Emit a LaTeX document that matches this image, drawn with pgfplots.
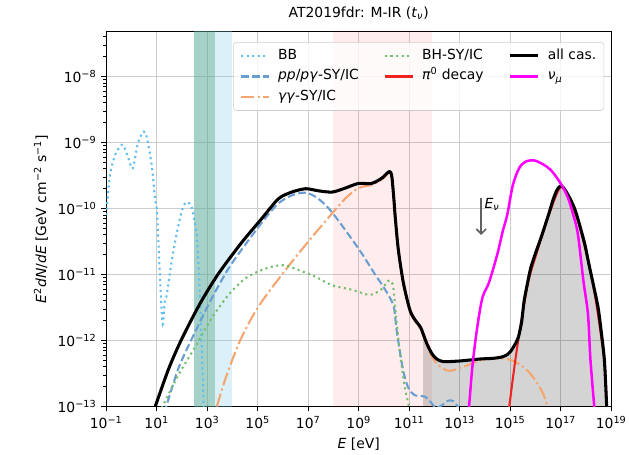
\documentclass[border=0pt]{standalone}
\usepackage{fontspec}
\setmainfont{DejaVu Sans}
\usepackage{pgfplots}
\pgfplotsset{compat=1.18}
\usetikzlibrary{arrows.meta}

\definecolor{bbcol}{RGB}{95,190,238}
\definecolor{ppcol}{RGB}{105,158,210}
\definecolor{ggcol}{RGB}{245,165,112}
\definecolor{bhcol}{RGB}{118,190,110}
\definecolor{picol}{RGB}{240,35,35}
\definecolor{numcol}{RGB}{255,0,255}
\definecolor{gridcol}{RGB}{205,205,205}
\definecolor{xraycol}{RGB}{135,206,235}
\definecolor{softcol}{RGB}{46,139,87}

\tikzset{
  bbstyle/.style={bbcol, line width=1.5pt, dash pattern=on 1.5pt off 2.5pt},
  ppstyle/.style={ppcol, line width=1.5pt, dash pattern=on 5.5pt off 2.4pt},
  ggstyle/.style={ggcol, line width=1.5pt, dash pattern=on 9.6pt off 2.4pt on 1.5pt off 2.4pt},
  bhstyle/.style={bhcol, line width=1.5pt, dash pattern=on 1.5pt off 2.5pt},
  pistyle/.style={picol, line width=1.5pt},
  allstyle/.style={black, line width=2.2pt, line join=round},
  numstyle/.style={numcol, line width=1.8pt, line join=round},
}

\begin{document}
\begin{tikzpicture}
\begin{axis}[
  scale only axis,
  width=363.6pt, height=269.9pt,
  xmode=log, ymode=log,
  xmin=1e-1, xmax=1e19, ymin=1e-13, ymax=4.8e-8,
  xtick={1e-1,1e1,1e3,1e5,1e7,1e9,1e11,1e13,1e15,1e17,1e19},
  xticklabels={10\textsuperscript{−1},10\textsuperscript{1},10\textsuperscript{3},10\textsuperscript{5},10\textsuperscript{7},10\textsuperscript{9},10\textsuperscript{11},10\textsuperscript{13},10\textsuperscript{15},10\textsuperscript{17},10\textsuperscript{19}},
  ytick={1e-13,1e-12,1e-11,1e-10,1e-9,1e-8},
  yticklabels={10\textsuperscript{−13},10\textsuperscript{−12},10\textsuperscript{−11},10\textsuperscript{−10},10\textsuperscript{−9},10\textsuperscript{−8}},
  minor xtick={},
  minor ytick={2e-13,3e-13,4e-13,5e-13,6e-13,7e-13,8e-13,9e-13,
               2e-12,3e-12,4e-12,5e-12,6e-12,7e-12,8e-12,9e-12,
               2e-11,3e-11,4e-11,5e-11,6e-11,7e-11,8e-11,9e-11,
               2e-10,3e-10,4e-10,5e-10,6e-10,7e-10,8e-10,9e-10,
               2e-9,3e-9,4e-9,5e-9,6e-9,7e-9,8e-9,9e-9,
               2e-8,3e-8,4e-8},
  tick align=outside,
  xtick pos=bottom, ytick pos=left,
  major tick length=3.5pt, minor tick length=2pt,
  every major tick/.style={black, line width=0.8pt},
  every minor tick/.style={black, line width=0.6pt},
  grid=major,
  major grid style={gridcol, line width=0.8pt},
  axis line style={line width=0.8pt},
  no markers,
  xlabel={\textit{E} [eV]},
  ylabel={\textit{E}\textsuperscript{2}\textit{dN}/\textit{dE} [GeV cm\textsuperscript{−2} s\textsuperscript{−1}]},
  title={AT2019fdr: M-IR (\textit{t}\textsubscript{\textit{ν}})},
  title style={at={(0.5,1)}, anchor=base, yshift=4pt},
  legend columns=3,
  legend cell align=left,
  legend image code/.code={\draw[#1] (0pt,0pt) -- (20pt,0pt);},
  legend style={
    at={(0.986,0.972)}, anchor=north east,
    draw=gridcol, rounded corners=2pt,
    fill=white, fill opacity=0.8, text opacity=1,
    inner xsep=4.5pt, inner ysep=3.5pt,
    row sep=3pt,
    nodes={inner sep=1pt, text height=7.5pt, text depth=2.5pt},
    /tikz/every odd column/.append style={column sep=5pt},
    /tikz/every even column/.append style={column sep=17pt},
  },
]

% observation windows
\fill[xraycol, opacity=0.3] (axis cs:300,1e-14) rectangle (axis cs:1e4,1e-7);
\fill[softcol, opacity=0.3] (axis cs:300,1e-14) rectangle (axis cs:2000,1e-7);
\fill[red, opacity=0.07] (axis cs:1e8,1e-14) rectangle (axis cs:8e11,1e-7);

% shaded area under the cascade spectrum at high energies
\addplot[fill=black, fill opacity=0.17, draw=none, forget plot] coordinates {
 (3.55e11,1e-13) (3.55e11,1.26e-12) (4.90e11,9.12e-13) (7.94e11,6.31e-13)
 (1.23e12,5.25e-13) (2.24e12,4.79e-13) (1e13,4.90e-13) (6.31e13,5.25e-13)
 (2e14,5.37e-13) (4.57e14,5.62e-13) (7.94e14,6.17e-13) (1.15e15,7.24e-13)
 (1.585e15,8.91e-13) (2.09e15,1.12e-12) (2.82e15,1.905e-12) (3.55e15,3.98e-12)
 (5.25e15,8.71e-12) (6.61e15,1.29e-11) (9.55e15,2.0e-11) (1.66e16,3.63e-11)
 (3.24e16,7.94e-11) (5.13e16,1.41e-10) (7.08e16,1.905e-10) (9.55e16,2.19e-10)
 (1.26e17,2.09e-10) (2e17,1.585e-10) (3.55e17,1e-10) (5.62e17,5.62e-11)
 (9.12e17,2.82e-11) (1.32e18,1.41e-11) (1.95e18,7.08e-12) (3.02e18,3.16e-12)
 (3.98e18,1.41e-12) (5.37e18,5.01e-13) (6.61e18,1e-13)
};

% BB
\addplot[bbstyle, smooth, forget plot] coordinates {
 (0.1,7.94e-11) (0.141,3.24e-10) (0.224,6.46e-10) (0.355,8.71e-10) (0.479,9.12e-10)
 (0.759,5.75e-10) (1.122,4.07e-10) (1.86,1.02e-9) (3.47,1.445e-9) (6.31,4.57e-10)
 (8.51,1.41e-10) (10,1e-10) (12.0,2.51e-11) (14.45,5.01e-12) (17.38,1.78e-12)
 (20.9,3.98e-12) (25.1,5.01e-12) (39.8,1.66e-11) (72.4,5.62e-11) (112,1.07e-10)
 (166,1.26e-10) (240,1.05e-10) (302,7.08e-11) (380,3.98e-11) (457,1.26e-11)
 (525,3.55e-12) (603,7.94e-13) (708,1.26e-13) (759,3.98e-14)
};

% pp/pgamma synchrotron + IC
\addplot[ppstyle, smooth, forget plot] coordinates {
 (19.95,7.94e-14) (72.4,3.80e-13) (331,1.35e-12) (1510,4.37e-12) (6920,1.23e-11)
 (3.16e4,2.82e-11) (1.95e5,7.08e-11) (6.61e5,1.20e-10) (2.24e6,1.585e-10)
 (7.94e6,1.74e-10) (2.51e7,1.41e-10) (8.91e7,8.71e-11) (9.55e8,2.51e-11)
 (4.47e9,1e-11) (1e10,6.31e-12) (2.34e10,3.47e-12) (2.95e10,1.78e-12)
 (3.72e10,9.55e-13) (5.89e10,3.39e-13) (9.33e10,1.905e-13) (1.70e11,1.48e-13)
 (4.27e11,1.41e-13) (7.08e11,1.17e-13) (1.12e12,9.55e-14) (2.0e12,1.05e-13)
 (3.55e12,1.23e-13) (5.62e12,1.20e-13) (8.91e12,9.55e-14) (1.26e13,6.31e-14)
};

% gamma-gamma synchrotron + IC
\addplot[ggstyle, smooth, forget plot] coordinates {
 (2400,1e-13) (3980,1.91e-13) (6920,3.55e-13) (2e4,1e-12) (1e5,3.16e-12)
 (1e6,1.05e-11) (1e7,3.16e-11) (8.51e7,8.32e-11) (2.88e8,1.41e-10) (9.55e8,2.04e-10)
 (3.24e9,2.29e-10) (8.13e9,2.75e-10) (1.585e10,3.47e-10) (2.0e10,3.09e-10)
 (2.40e10,1.51e-10) (2.82e10,6.76e-11) (3.72e10,2.24e-11) (5.89e10,7.08e-12)
 (1.07e11,2.75e-12) (1.78e11,1.905e-12) (2.82e11,1.48e-12) (4.90e11,8.51e-13)
 (7.94e11,5.62e-13) (1.23e12,4.47e-13) (2.24e12,3.72e-13) (4.17e12,3.47e-13)
 (1.38e13,3.98e-13) (4.68e13,4.79e-13) (1e14,5.13e-13) (4.57e14,5.37e-13)
 (1.55e15,4.79e-13) (5.25e15,3.39e-13) (1.29e16,2.14e-13) (2.24e16,1.41e-13)
 (3.55e16,7.94e-14)
};

% Bethe-Heitler synchrotron + IC
\addplot[bhstyle, smooth, forget plot] coordinates {
 (12.6,7.94e-14) (72.4,3.02e-13) (331,7.94e-13) (1510,2.19e-12) (6920,4.90e-12)
 (3.16e4,8.71e-12) (1.445e5,1.175e-11) (4.90e5,1.35e-11) (1.26e6,1.38e-11)
 (4.07e6,1.175e-11) (1.86e7,9.33e-12) (8.51e7,6.92e-12) (5.25e8,5.89e-12)
 (2.0e9,5.01e-12) (3.55e9,5.01e-12) (8.13e9,6.03e-12) (1.41e10,7.94e-12)
 (1.86e10,7.94e-12) (2.34e10,6.31e-12) (3.16e10,1.905e-12) (4.37e10,6.03e-13)
 (6.76e10,1.905e-13) (9.77e10,1e-13) (1.12e11,6.31e-14)
};

% pi0 decay
\addplot[pistyle, smooth, forget plot] coordinates {
 (8.51e14,7.94e-14) (1.585e15,5.01e-13) (3.02e15,2.455e-12) (5.25e15,7.94e-12)
 (1e16,1.86e-11) (3.16e16,7.41e-11) (9.55e16,2.09e-10) (2.0e17,1.51e-10)
 (5.62e17,5.37e-11) (1.95e18,6.76e-12) (5.37e18,4.79e-13) (6.61e18,8.91e-14)
};

% all cascade emission
\addplot[allstyle, smooth, tension=0.45, forget plot] coordinates {
 (7.08,7.94e-14) (28.2,3.55e-13) (91.2,1e-12) (501,3.55e-12) (2630,1e-11)
 (2.14e4,2.95e-11) (1.45e5,7.08e-11) (6.61e5,1.41e-10) (2.24e6,1.78e-10)
 (7.94e6,2.0e-10) (2.51e7,1.86e-10) (8.91e7,1.78e-10) (2.88e8,2.04e-10)
 (9.55e8,2.40e-10) (3.16e9,2.40e-10) (8.13e9,2.88e-10) (1.585e10,3.63e-10)
 (2.0e10,3.24e-10) (2.40e10,1.585e-10) (2.82e10,7.08e-11) (3.72e10,2.34e-11)
 (5.89e10,7.41e-12) (1.07e11,2.88e-12) (1.78e11,2.0e-12) (2.82e11,1.585e-12)
 (4.90e11,9.12e-13) (7.94e11,6.31e-13) (1.23e12,5.25e-13) (2.24e12,4.79e-13)
 (1e13,4.90e-13) (6.31e13,5.25e-13) (2e14,5.37e-13) (4.57e14,5.62e-13)
 (7.94e14,6.17e-13) (1.15e15,7.24e-13) (1.585e15,8.91e-13) (2.09e15,1.12e-12)
 (2.82e15,1.905e-12) (3.55e15,3.98e-12) (5.25e15,8.71e-12) (6.61e15,1.29e-11)
 (9.55e15,2.0e-11) (1.66e16,3.63e-11) (3.24e16,7.94e-11) (5.13e16,1.41e-10)
 (7.08e16,1.905e-10) (9.55e16,2.19e-10) (1.26e17,2.09e-10) (2e17,1.585e-10)
 (3.55e17,1e-10) (5.62e17,5.62e-11) (9.12e17,2.82e-11) (1.32e18,1.41e-11)
 (1.95e18,7.08e-12) (3.02e18,3.16e-12) (3.98e18,1.41e-12) (5.37e18,5.01e-13)
 (6.61e18,1e-13) (7.24e18,5.01e-14)
};

% muon neutrinos
\addplot[numstyle, smooth, forget plot] coordinates {
 (2.14e13,6.31e-14) (3.16e13,3.98e-13) (4.90e13,1.55e-12) (7.94e13,4.47e-12)
 (1.445e14,7.59e-12) (3.09e14,2.04e-11) (5.01e14,4.47e-11) (7.76e14,8.32e-11)
 (1.26e15,2.24e-10) (2.24e15,4.07e-10) (3.98e15,5.13e-10) (8.91e15,5.37e-10)
 (2.0e16,4.68e-10) (4.17e16,3.80e-10) (1e17,2.40e-10) (1.905e17,1.48e-10)
 (3.16e17,7.94e-11) (4.79e17,4.07e-11) (7.94e17,7.94e-12) (1.20e18,2.51e-12)
 (1.51e18,5.01e-13) (2.24e18,7.94e-14)
};

% neutrino energy marker
\draw[-{Straight Barb[length=3.5pt,width=7pt]}, black!62, line width=1.2pt]
  (axis cs:7.08e13,1.45e-10) -- (axis cs:7.08e13,3.98e-11);
\node[anchor=west, inner sep=0pt] at (axis cs:9.5e13,1.15e-10) {\textit{E}\textsubscript{\textit{ν}}};

% legend, filled column by column
\addlegendimage{bbstyle}\addlegendentry{BB}
\addlegendimage{bhstyle}\addlegendentry{BH-SY/IC}
\addlegendimage{allstyle}\addlegendentry{all cas.}
\addlegendimage{ppstyle}\addlegendentry{\textit{pp}/\textit{pγ}-SY/IC}
\addlegendimage{pistyle}\addlegendentry{\textit{π}\textsuperscript{0} decay}
\addlegendimage{numstyle}\addlegendentry{\textit{ν}\textsubscript{\textit{μ}}}
\addlegendimage{ggstyle}\addlegendentry{\textit{γγ}-SY/IC}
\addlegendimage{empty legend}\addlegendentry{}
\addlegendimage{empty legend}\addlegendentry{}
\end{axis}
\pgfresetboundingbox
\path[use as bounding box] ([shift={(-76.5pt,-34.2pt)}]current axis.south west)
  rectangle ([shift={(12.8pt,22.8pt)}]current axis.north east);
\end{tikzpicture}
\end{document}
